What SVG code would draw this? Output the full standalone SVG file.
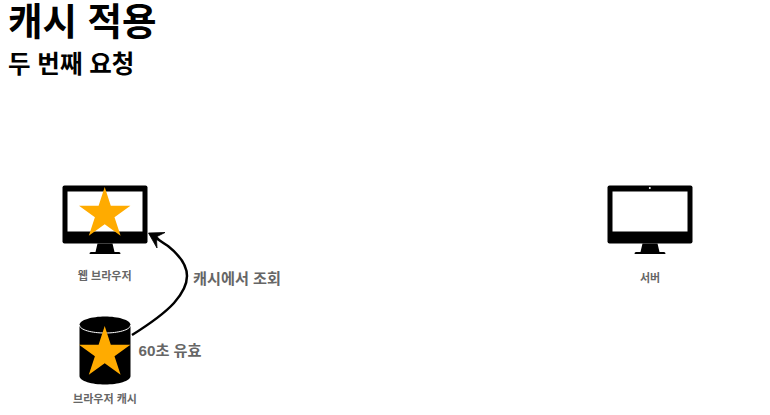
<svg xmlns="http://www.w3.org/2000/svg" width="770" height="415" viewBox="0 0 770 415">
<style>
text{font-family:"Liberation Sans","Noto Sans CJK KR",sans-serif}
.t{font-weight:700;fill:#000}
.l{font-size:11px;font-weight:700;fill:#666;text-anchor:middle}
.c{font-size:15.200px;font-weight:700;fill:#666}
.star{fill:#ffab00}
</style>
<defs>
<g id="mon">
<path d="M2 0H83a2 2 0 0 1 2 2V56a2 2 0 0 1-2 2H2a2 2 0 0 1-2-2V2a2 2 0 0 1 2-2Z" fill="#000"/>
<rect x="5" y="6" width="75" height="40" fill="#fff"/>
<path d="M35 58H50L52 66.500H56.500Q58 66.500 58 68.500H27Q27 66.500 28.500 66.500H33Z" fill="#000"/>
</g>
<polygon id="st" class="star" points="0,-27 6.100,-8.300 25.700,-8.300 9.800,3.200 15.900,21.800 0,10.300 -15.900,21.800 -9.800,3.200 -25.700,-8.300 -6.100,-8.300"/>
</defs>
<text class="t" x="8" y="35" font-size="37.500">캐시 적용</text>
<text class="t" x="8" y="73" font-size="24.500">두 번째 요청</text>
<g id="browser">
<use href="#mon" x="62.500" y="185.500"/>
<use href="#st" x="104.700" y="214"/>
<text class="l" x="104.700" y="280">웹 브라우저</text>
</g>
<g id="server">
<use href="#mon" x="607.500" y="185.500"/>
<circle cx="649.800" cy="188" r="1" fill="#fff"/>
<text class="l" x="650" y="282">서버</text>
</g>
<g id="cache">
<path d="M79.500 325C79.500 320 92 316.500 105 316.500S130.500 320 130.500 325V376C130.500 381 118 384.500 105 384.500S79.500 381 79.500 376Z" fill="#000"/>
<path d="M79.500 325C79.500 330 92 333 105 333S130.500 330 130.500 325" fill="none" stroke="#fff" stroke-width="1"/>
<use href="#st" x="104.700" y="353"/>
<text class="l" x="105" y="403">브라우저 캐시</text>
</g>
<g id="connectors">
<path d="M132 335C148 325 163 315 174 303C182 294 187 285 187 276C187 264 178 254 168 246C160 241 155 237 150 234" fill="none" stroke="#000" stroke-width="2.500" stroke-linejoin="round"/>
<path d="M148.500 233L165 232.500L157 236.500L160 240L156.500 239.500L157 248Z" fill="#000" stroke="#000" stroke-width="0.800" stroke-linejoin="round"/>
</g>
<text class="c" x="193" y="284">캐시에서 조회</text>
<text class="c" x="138.500" y="356">60초 유효</text>
</svg>
